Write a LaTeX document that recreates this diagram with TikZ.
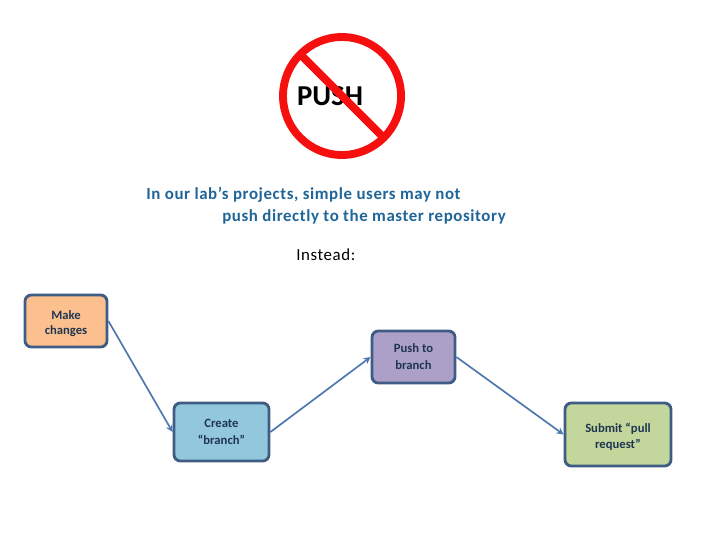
\documentclass[tikz,border=0pt]{standalone}
\usepackage{fontspec}
\setmainfont{Carlito}
\newfontfamily\spacedfont[LetterSpace=3.5]{Carlito}
\definecolor{stepline}{HTML}{3F5C85}
\definecolor{linkline}{HTML}{4F78AC}
\definecolor{noticeblue}{HTML}{1F6598}
\definecolor{steptext}{HTML}{1F3552}
\definecolor{signred}{HTML}{F50F0F}
\definecolor{makefill}{HTML}{FBC08E}
\definecolor{createfill}{HTML}{92C7DC}
\definecolor{pushfill}{HTML}{ADA0C8}
\definecolor{submitfill}{HTML}{C3D69B}
\usetikzlibrary{arrows.meta}
\begin{document}
\begin{tikzpicture}[x=0.025cm, y=-0.025cm, stepbox/.style={rectangle, rounded corners=4.5pt, draw=stepline, line width=2pt, text=steptext, align=center, font=\fontsize{9}{12}\selectfont\bfseries, inner sep=0pt}, link/.style={draw=linkline, line width=1.2pt, -{Stealth[length=5pt, width=5pt]}}, notice/.style={text=noticeblue, font=\fontsize{12}{14}\spacedfont\bfseries, inner sep=0pt}, signline/.style={draw=signred, line width=5.6pt}]
	\useasboundingbox (0, 0) rectangle (720, 540);
	% sign
	\node[font=\fontsize{20.5}{24}\selectfont\bfseries, inner sep=0pt] (pushword) at (330, 96) {PUSH};
	\node[circle, signline, minimum size=118*0.025cm, inner sep=0pt] (sign) at (342, 96) {};
	\coordinate (barstart) at (301, 55);
	\coordinate (barend) at (383, 137);
	\draw[signline] (barstart) -- (barend);
	% text
	\node[notice, anchor=west] (noticeone) at (146, 195) {In our lab’s projects, simple users may not};
	\node[notice, anchor=west] (noticetwo) at (222, 217) {push directly to the master repository};
	\node[anchor=west, font=\fontsize{12}{14}\spacedfont, inner sep=0pt] (instead) at (296, 254.5) {Instead:};
	% steps
	\node[stepbox, fill=makefill, minimum width=82*0.025cm, minimum height=52*0.025cm] (make) at (66, 321) {\rule{0pt}{10pt}Make\\[-1pt]changes};
	\node[stepbox, fill=createfill, minimum width=95*0.025cm, minimum height=58*0.025cm] (create) at (221.5, 432) {Create\\“branch”};
	\node[stepbox, fill=pushfill, minimum width=83*0.025cm, minimum height=52*0.025cm] (pushbranch) at (413.5, 357) {Push to\\branch};
	\node[stepbox, fill=submitfill, minimum width=106*0.025cm, minimum height=63*0.025cm] (submit) at (618, 434.5) {\rule{0pt}{10pt}Submit “pull\\[-1pt]request”};
	\draw[link] (make.east) -- (create.west);
	\draw[link] (create.east) -- (pushbranch.west);
	\draw[link] (pushbranch.east) -- (submit.west);
\end{tikzpicture}
\end{document}
